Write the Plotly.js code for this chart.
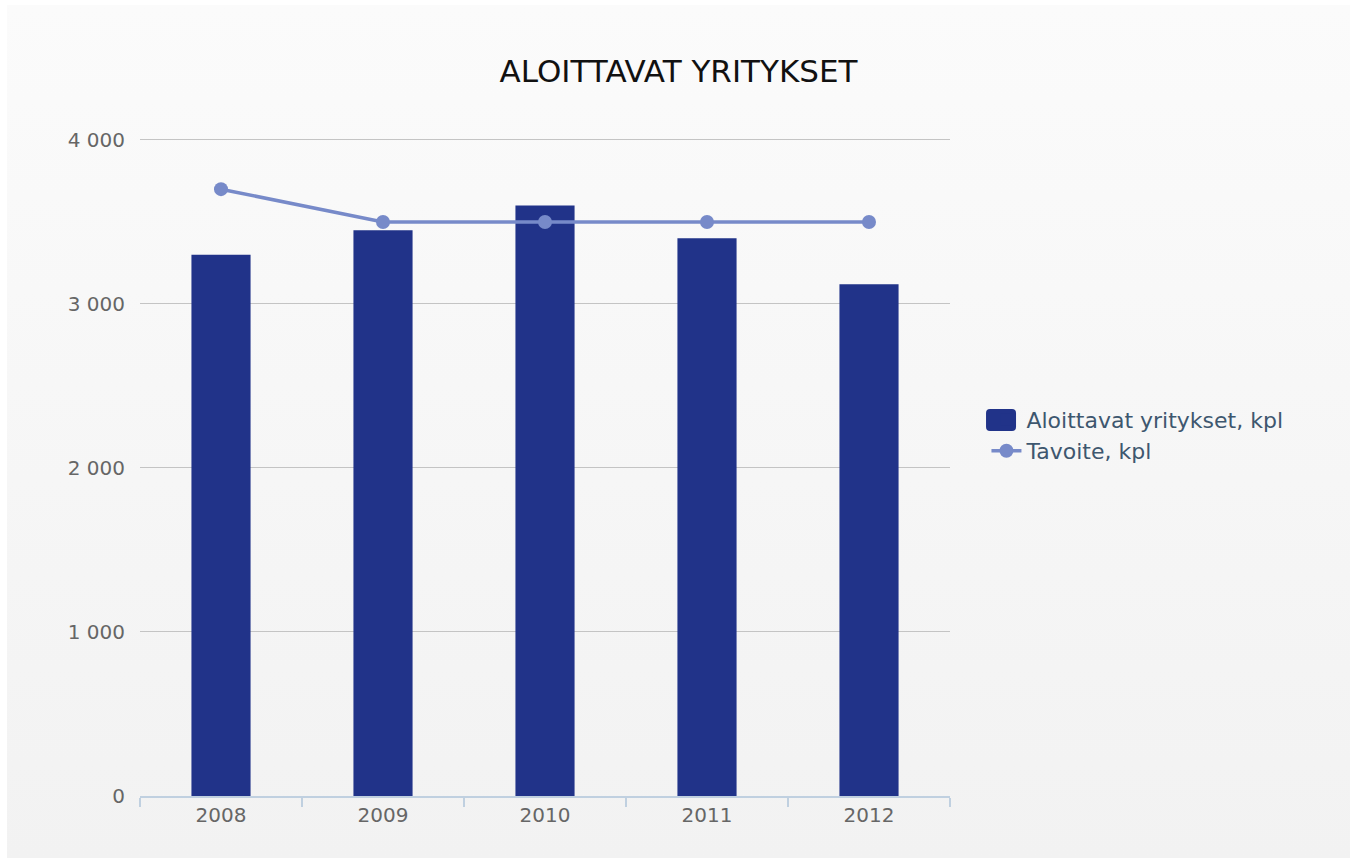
<!DOCTYPE html>
<html>
<head>
<meta charset="utf-8">
<script src="https://cdn.plot.ly/plotly-3.0.1.min.js"></script>
<style>
  html, body { margin: 0; padding: 0; background: #ffffff; }
  #wrap {
    position: absolute; left: 7px; top: 5px; width: 1343px; height: 853px;
    background: linear-gradient(to bottom, #fbfbfb 0%, #f2f2f2 100%);
  }
  #chart { width: 1343px; height: 853px; }
</style>
</head>
<body>
<div id="wrap"><div id="chart"></div></div>
<script>
const years = ['2008', '2009', '2010', '2011', '2012'];
const startups = [3300, 3450, 3600, 3400, 3120];
const target = [3700, 3500, 3500, 3500, 3500];
const yTicks = [0, 1000, 2000, 3000, 4000];

const FONT = '"DejaVu Sans", "Lucida Grande", Verdana, sans-serif';
const BAR_COLOR = '#213389';
const LINE_COLOR = '#778ac9';

const data = [
  {
    type: 'bar',
    name: 'Aloittavat yritykset, kpl',
    x: years,
    y: startups,
    marker: { color: BAR_COLOR, line: { color: BAR_COLOR, width: 0 } },
    hoverinfo: 'x+y'
  },
  {
    type: 'scatter',
    mode: 'lines+markers',
    name: 'Tavoite, kpl',
    x: years,
    y: target,
    line: { color: LINE_COLOR, width: 3.5 },
    marker: { color: LINE_COLOR, size: 14 }
  }
];

const layout = {
  width: 1343,
  height: 853,
  paper_bgcolor: 'rgba(0,0,0,0)',
  plot_bgcolor: 'rgba(0,0,0,0)',
  separators: '. ',
  margin: { l: 133, r: 400, t: 133, b: 62, pad: 0 },
  font: { family: FONT, color: '#666666', size: 20 },
  bargap: 0.635,
  title: {
    text: 'ALOITTAVAT YRITYKSET',
    x: 0.5, xref: 'container', xanchor: 'center',
    y: 67, yref: 'container', yanchor: 'middle',
    font: { family: FONT, size: 31, color: '#111111' }
  },
  xaxis: {
    type: 'category',
    showgrid: false,
    showline: true,
    linecolor: '#c0d0e0',
    linewidth: 1.5,
    ticks: 'outside',
    tickson: 'boundaries',
    ticklen: 9,
    tickcolor: '#c0d0e0',
    tickwidth: 1.5,
    tickfont: { family: FONT, size: 20, color: '#666666' },
    zeroline: false,
    fixedrange: true
  },
  yaxis: {
    range: [0, 4012],
    tickvals: yTicks,
    separatethousands: true,
    tickformat: ',d',
    showgrid: true,
    gridcolor: '#c4c4c4',
    gridwidth: 1.2,
    zeroline: false,
    showline: false,
    ticks: '',
    ticklabelstandoff: 14,
    tickfont: { family: FONT, size: 20, color: '#666666' },
    fixedrange: true
  },
  showlegend: true,
  legend: {
    x: 1.045, xanchor: 'left',
    y: 0.548, yanchor: 'middle',
    bgcolor: 'rgba(0,0,0,0)',
    font: { family: FONT, size: 22, color: '#3e576f' },
    itemwidth: 30,
    tracegroupgap: 4
  },
  shapes: [
    {
      // enlarged rounded legend swatch for the bar series
      type: 'path', xref: 'paper', yref: 'paper', layer: 'above',
      xsizemode: 'pixel', ysizemode: 'pixel',
      xanchor: 1.063, yanchor: 0.5714,
      path: 'M -11,11 L 11,11 Q 15,11 15,7 L 15,-7 Q 15,-11 11,-11 L -11,-11 Q -15,-11 -15,-7 L -15,7 Q -15,11 -11,11 Z',
      fillcolor: BAR_COLOR, line: { width: 0 }
    }
  ]
};

Plotly.newPlot('chart', data, layout, { displayModeBar: false });
</script>
</body>
</html>
